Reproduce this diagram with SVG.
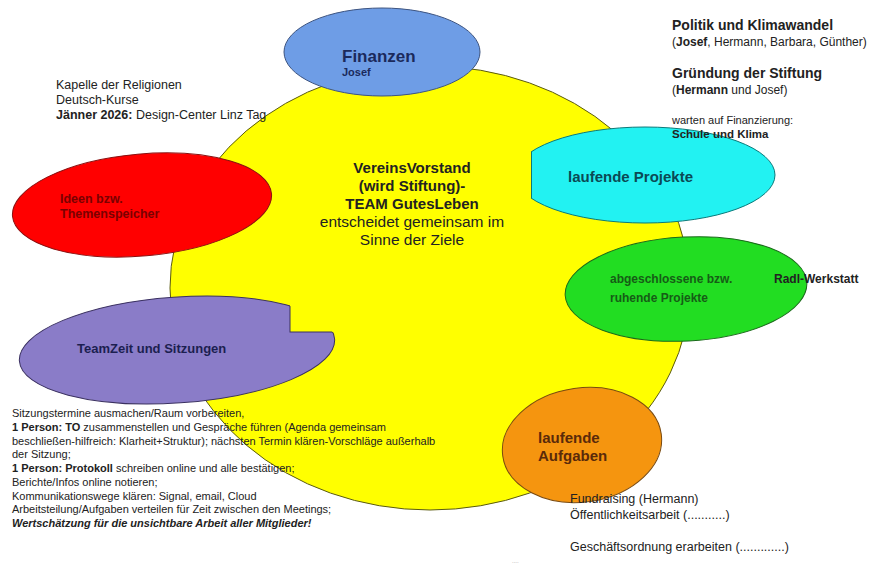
<svg xmlns="http://www.w3.org/2000/svg" width="882" height="566" viewBox="0 0 882 566">
<style>
text{font-family:"Liberation Sans",Arial,Helvetica,sans-serif;fill:#222}
.b{font-weight:bold}
.sm{font-size:11px}
.md{font-size:12.5px}
</style>
<defs>
<clipPath id="cyanClip"><rect x="531" y="100" width="300" height="150"/></clipPath>
<clipPath id="notchOut"><path clip-rule="evenodd" d="M0,0H882V566H0Z M290,240V332H370V240Z"/></clipPath>
<clipPath id="purpleIn"><ellipse cx="177" cy="350" rx="158" ry="53" transform="rotate(-4 177 350)"/></clipPath>
</defs>
<rect width="882" height="566" fill="#ffffff"/>

<g id="vorstand">
<ellipse cx="430" cy="288" rx="260" ry="222" fill="#ffff00" stroke="#5a5a10" stroke-width="1"/>
<text class="b" font-size="15" text-anchor="middle" x="412" y="173">VereinsVorstand</text>
<text class="b" font-size="15" text-anchor="middle" x="412" y="191">(wird Stiftung)-</text>
<text class="b" font-size="15" text-anchor="middle" x="412" y="209">TEAM GutesLeben</text>
<text font-size="15.5" text-anchor="middle" x="412" y="227">entscheidet gemeinsam im</text>
<text font-size="15.5" text-anchor="middle" x="412" y="245">Sinne der Ziele</text>
</g>

<g id="finanzen">
<ellipse cx="382" cy="52" rx="98" ry="44" fill="#6e9de6" stroke="#3d5480" stroke-width="1"/>
<text class="b" font-size="17" x="342" y="62" style="fill:#1b2a5c">Finanzen</text>
<text class="b" font-size="11" x="342" y="76" style="fill:#1b2a5c">Josef</text>
</g>

<g id="ideen">
<ellipse cx="142" cy="205" rx="130" ry="51" transform="rotate(-5 142 205)" fill="#ff0000" stroke="#8a1010" stroke-width="1"/>
<text class="b" font-size="12.5" x="60" y="203" style="fill:#7a0000">Ideen bzw.</text>
<text class="b" font-size="12.5" x="60" y="218" style="fill:#7a0000">Themenspeicher</text>
</g>

<g id="laufende-projekte">
<ellipse cx="645" cy="175" rx="130" ry="48" fill="#22f2f2" stroke="#0b7a7a" stroke-width="1" clip-path="url(#cyanClip)"/>
<line x1="531.5" y1="152" x2="531.5" y2="198" stroke="#0b7a7a" stroke-width="1"/>
<text class="b" font-size="15" x="568" y="182" style="fill:#0b4a55">laufende Projekte</text>
</g>

<g id="abgeschlossene-projekte">
<ellipse cx="686" cy="289" rx="121" ry="52" transform="rotate(-3 686 289)" fill="#22dd22" stroke="#1a6a1a" stroke-width="1"/>
<text class="b" font-size="12" x="610" y="283" style="fill:#165c16">abgeschlossene bzw.</text>
<text class="b" font-size="12" x="610" y="302" style="fill:#165c16">ruhende Projekte</text>
<text class="b" font-size="12" x="774" y="283">Radl-Werkstatt</text>
</g>

<g id="teamzeit">
<g clip-path="url(#notchOut)">
<ellipse cx="177" cy="350" rx="158" ry="53" transform="rotate(-4 177 350)" fill="#8a7cc8" stroke="#3a3060" stroke-width="1"/>
</g>
<g clip-path="url(#purpleIn)">
<rect x="290" y="240" width="80" height="92" fill="none" stroke="#3a3060" stroke-width="1"/>
</g>
<text class="b" font-size="13" x="77" y="353" style="fill:#1c1f50">TeamZeit und Sitzungen</text>
</g>

<g id="laufende-aufgaben">
<ellipse cx="582" cy="445" rx="80" ry="57" transform="rotate(-8 582 445)" fill="#f5950f" stroke="#7a4a10" stroke-width="1"/>
<text class="b" font-size="15" x="538" y="443" style="fill:#5a2a0a">laufende</text>
<text class="b" font-size="15" x="538" y="461" style="fill:#5a2a0a">Aufgaben</text>
</g>

<g id="connectors"/>

<g id="notes-topleft" class="md">
<text x="56" y="89">Kapelle der Religionen</text>
<text x="56" y="104">Deutsch-Kurse</text>
<text x="56" y="119"><tspan class="b">Jänner 2026:</tspan> Design-Center Linz Tag</text>
</g>

<g id="notes-topright">
<text class="b" font-size="14" x="672" y="30">Politik und Klimawandel</text>
<text font-size="12" x="672" y="46">(<tspan class="b">Josef</tspan>, Hermann, Barbara, Günther)</text>
<text class="b" font-size="14" x="672" y="78">Gründung der Stiftung</text>
<text font-size="12" x="672" y="94">(<tspan class="b">Hermann</tspan> und Josef)</text>
<text font-size="11" x="672" y="124">warten auf Finanzierung:</text>
<text class="b" font-size="11.5" x="672" y="138">Schule und Klima</text>
</g>

<g id="notes-sitzungen" class="sm">
<text x="12" y="417">Sitzungstermine ausmachen/Raum vorbereiten,</text>
<text x="12" y="431"><tspan class="b">1 Person: TO</tspan> zusammenstellen und Gespräche führen (Agenda gemeinsam</text>
<text x="12" y="445">beschließen-hilfreich: Klarheit+Struktur); nächsten Termin klären-Vorschläge außerhalb</text>
<text x="12" y="458">der Sitzung;</text>
<text x="12" y="472"><tspan class="b">1 Person: Protokoll</tspan> schreiben online und alle bestätigen;</text>
<text x="12" y="486">Berichte/Infos online notieren;</text>
<text x="12" y="500">Kommunikationswege klären: Signal, email, Cloud</text>
<text x="12" y="513">Arbeitsteilung/Aufgaben verteilen für Zeit zwischen den Meetings;</text>
<text x="12" y="527" font-weight="bold" font-style="italic">Wertschätzung für die unsichtbare Arbeit aller Mitglieder!</text>
</g>

<g id="notes-aufgaben" class="md">
<text x="570" y="503">Fundraising (Hermann)</text>
<text x="570" y="519">Öffentlichkeitsarbeit (...........)</text>
<text x="570" y="551">Geschäftsordnung erarbeiten (.............)</text>
</g>

<text x="512" y="563" font-size="6" style="fill:#999">....</text>
</svg>
